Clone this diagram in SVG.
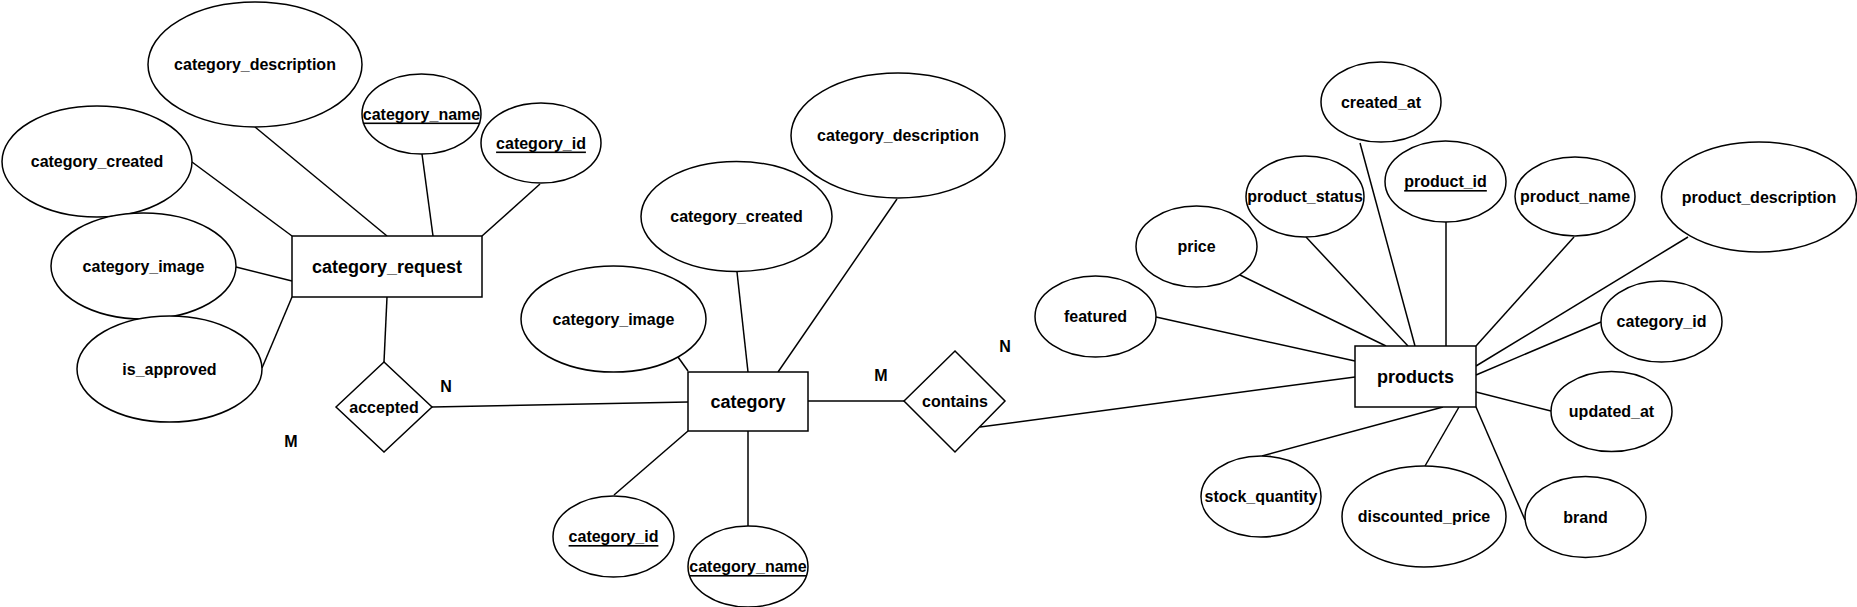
<svg xmlns="http://www.w3.org/2000/svg" width="1857" height="607" viewBox="0 0 1857 607">
<style>
.shape{fill:#fff;stroke:#000;stroke-width:1.5}
.conn line{stroke:#000;stroke-width:1.5}
text{font-family:"Liberation Sans",Arial,Helvetica,sans-serif;font-weight:bold;font-size:16px;text-anchor:middle;dominant-baseline:central;fill:#000}
.big{font-size:18px}
.key{text-decoration:underline}
</style>
<rect width="1857" height="607" fill="#fff"/>
<g id="connectors" class="conn">
<line x1="255" y1="127" x2="387" y2="236"/>
<line x1="422" y1="154" x2="433" y2="236"/>
<line x1="540" y1="184" x2="482" y2="236"/>
<line x1="192" y1="162" x2="292" y2="236"/>
<line x1="236" y1="267" x2="292" y2="281"/>
<line x1="262" y1="368" x2="292" y2="297"/>
<line x1="387" y1="297" x2="384" y2="362"/>
<line x1="432" y1="407" x2="688" y2="402"/>
<line x1="678" y1="357" x2="688" y2="371"/>
<line x1="737" y1="272" x2="748" y2="372"/>
<line x1="897" y1="199" x2="778" y2="372"/>
<line x1="614" y1="495" x2="688" y2="431"/>
<line x1="748" y1="526" x2="748" y2="431"/>
<line x1="808" y1="401" x2="904" y2="401"/>
<line x1="980" y1="427" x2="1355" y2="377"/>
<line x1="1156" y1="317" x2="1355" y2="361"/>
<line x1="1240" y1="275" x2="1386" y2="346"/>
<line x1="1306" y1="237" x2="1408" y2="346"/>
<line x1="1360" y1="143" x2="1415" y2="346"/>
<line x1="1446" y1="222" x2="1446" y2="346"/>
<line x1="1574" y1="237" x2="1476" y2="346"/>
<line x1="1688" y1="237" x2="1476" y2="366"/>
<line x1="1601" y1="322" x2="1476" y2="375"/>
<line x1="1551" y1="411" x2="1476" y2="392"/>
<line x1="1262" y1="456" x2="1443" y2="407"/>
<line x1="1425" y1="466" x2="1459" y2="407"/>
<line x1="1525" y1="520" x2="1476" y2="407"/>
</g>
<g id="category_request">
<rect class="shape" x="292" y="236" width="190" height="61"/>
<text class="big" x="387" y="266.5">category_request</text>
</g>
<g id="cr_category_description"><ellipse class="shape" cx="255" cy="64.5" rx="107" ry="62.5"/><text x="255" y="64.5">category_description</text></g>
<g id="cr_category_name"><ellipse class="shape" cx="421.5" cy="114" rx="59.5" ry="40"/><text class="key" x="421.5" y="114">category_name</text></g>
<g id="cr_category_id"><ellipse class="shape" cx="541" cy="143" rx="60" ry="40"/><text class="key" x="541" y="143">category_id</text></g>
<g id="cr_category_created"><ellipse class="shape" cx="97" cy="161.5" rx="95" ry="55.5"/><text x="97" y="161.5">category_created</text></g>
<g id="cr_category_image"><ellipse class="shape" cx="143.5" cy="266" rx="92.5" ry="53"/><text x="143.5" y="266">category_image</text></g>
<g id="cr_is_approved"><ellipse class="shape" cx="169.5" cy="369" rx="92.5" ry="53"/><text x="169.5" y="369">is_approved</text></g>
<g id="accepted">
<polygon class="shape" points="336,407 384,362 432,407 384,452"/>
<text x="384" y="407">accepted</text>
</g>
<g id="label_N1"><text x="446" y="386">N</text></g>
<g id="label_M1"><text x="291" y="441">M</text></g>
<g id="category">
<rect class="shape" x="688" y="372" width="120" height="59"/>
<text class="big" x="748" y="401.5">category</text>
</g>
<g id="c_category_description"><ellipse class="shape" cx="898" cy="135.5" rx="107" ry="62.5"/><text x="898" y="135.5">category_description</text></g>
<g id="c_category_created"><ellipse class="shape" cx="736.5" cy="216.5" rx="95.5" ry="55"/><text x="736.5" y="216.5">category_created</text></g>
<g id="c_category_image"><ellipse class="shape" cx="613.5" cy="319" rx="92.5" ry="53"/><text x="613.5" y="319">category_image</text></g>
<g id="c_category_id"><ellipse class="shape" cx="613.5" cy="536.5" rx="60.5" ry="40.5"/><text class="key" x="613.5" y="536.5">category_id</text></g>
<g id="c_category_name"><ellipse class="shape" cx="748" cy="566.5" rx="60" ry="40.5"/><text class="key" x="748" y="566.5">category_name</text></g>
<g id="contains">
<polygon class="shape" points="904,401 955,351 1005,401 955,452"/>
<text x="955" y="401">contains</text>
</g>
<g id="label_M2"><text x="881" y="375">M</text></g>
<g id="label_N2"><text x="1005" y="346">N</text></g>
<g id="products">
<rect class="shape" x="1355" y="346" width="121" height="61"/>
<text class="big" x="1415.5" y="376.5">products</text>
</g>
<g id="p_created_at"><ellipse class="shape" cx="1381" cy="102" rx="60" ry="40"/><text x="1381" y="102">created_at</text></g>
<g id="p_product_status"><ellipse class="shape" cx="1305" cy="196.5" rx="59" ry="40.5"/><text x="1305" y="196.5">product_status</text></g>
<g id="p_product_id"><ellipse class="shape" cx="1445.5" cy="181.5" rx="60.5" ry="40.5"/><text class="key" x="1445.5" y="181.5">product_id</text></g>
<g id="p_product_name"><ellipse class="shape" cx="1575" cy="196.5" rx="60" ry="39.5"/><text x="1575" y="196.5">product_name</text></g>
<g id="p_product_description"><ellipse class="shape" cx="1759" cy="197" rx="97.5" ry="55"/><text x="1759" y="197">product_description</text></g>
<g id="p_price"><ellipse class="shape" cx="1196.5" cy="246.5" rx="60.5" ry="40.5"/><text x="1196.5" y="246.5">price</text></g>
<g id="p_featured"><ellipse class="shape" cx="1095.5" cy="316.5" rx="60.5" ry="40.5"/><text x="1095.5" y="316.5">featured</text></g>
<g id="p_category_id"><ellipse class="shape" cx="1661.5" cy="321.5" rx="60.5" ry="40.5"/><text x="1661.5" y="321.5">category_id</text></g>
<g id="p_updated_at"><ellipse class="shape" cx="1611.5" cy="411.5" rx="60.5" ry="40"/><text x="1611.5" y="411.5">updated_at</text></g>
<g id="p_stock_quantity"><ellipse class="shape" cx="1261" cy="496.5" rx="60" ry="40.5"/><text x="1261" y="496.5">stock_quantity</text></g>
<g id="p_discounted_price"><ellipse class="shape" cx="1424" cy="516.5" rx="82" ry="50.5"/><text x="1424" y="516.5">discounted_price</text></g>
<g id="p_brand"><ellipse class="shape" cx="1585.5" cy="517" rx="60.5" ry="40.5"/><text x="1585.5" y="517">brand</text></g>
</svg>
